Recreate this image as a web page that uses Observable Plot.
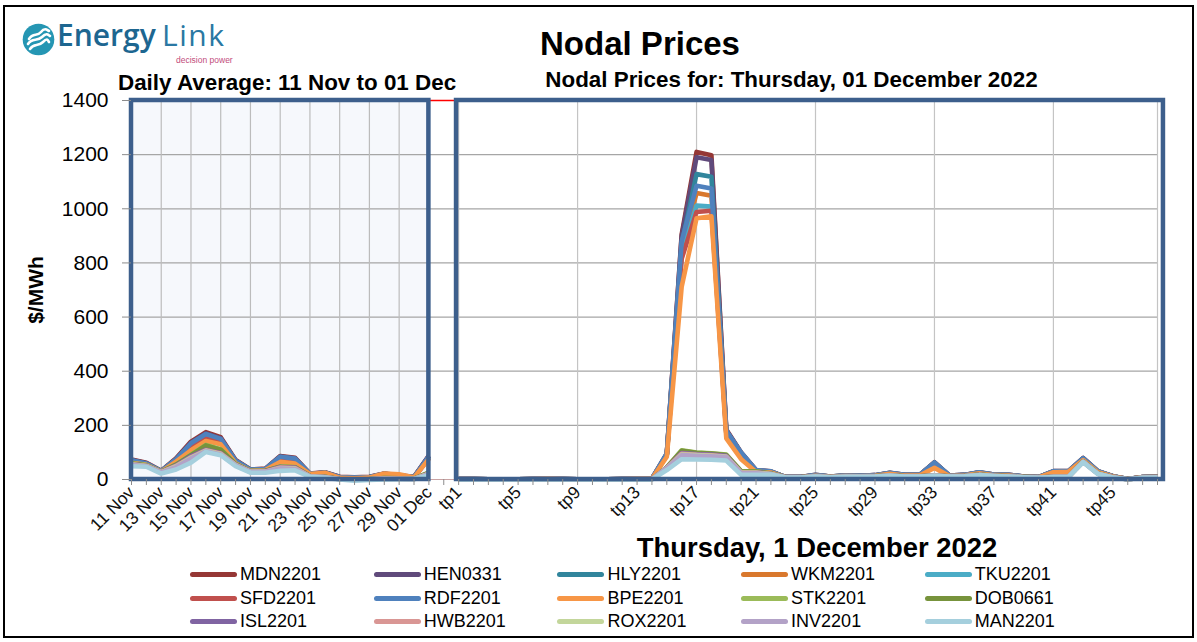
<!DOCTYPE html>
<html><head><meta charset="utf-8">
<script src="https://cdn.jsdelivr.net/npm/d3@7"></script>
<script src="https://cdn.jsdelivr.net/npm/@observablehq/plot@0.6"></script>
<style>
body{margin:0;background:#fff;}
#wrap{position:relative;width:1197px;height:642px;overflow:hidden;font-family:"Liberation Sans",Arial,sans-serif;background:#fff;}
#chart{position:absolute;left:0;top:0;}
#frame{position:absolute;left:3px;top:5px;width:1191px;height:633px;border:2px solid #000;box-sizing:border-box;pointer-events:none;}
.t{position:absolute;white-space:nowrap;font-weight:bold;color:#000;}
#legend{position:absolute;left:0;top:0;}
.li{position:absolute;display:flex;align-items:center;font-size:18px;color:#000;}
.sw{width:47px;height:5px;border-radius:3px;margin-right:3px;}
</style></head>
<body>
<div id="wrap">
  <div id="chart"></div>
  <!-- logo -->
  <svg style="position:absolute;left:22px;top:23px" width="34" height="34" viewBox="0 0 34 34">
    <circle cx="16.5" cy="16.5" r="15.8" fill="#2596b3"/>
    <path d="M7 16 C11 9,15 14,19 9 S25 7,27 8" stroke="#fff" stroke-width="2.6" fill="none" stroke-linecap="round"/>
    <path d="M6 21 C10 14,15 19,20 14 S26 12,28 13" stroke="#fff" stroke-width="2.6" fill="none" stroke-linecap="round"/>
    <path d="M8 26 C12 20,16 24,21 19 S26 18,27 19" stroke="#fff" stroke-width="2.6" fill="none" stroke-linecap="round"/>
  </svg>
  <div class="t" style="left:57px;top:20px;line-height:29px;font-family:'Open Sans',sans-serif;font-size:30px;font-weight:600;color:#1d6690;">Energy</div>
  <div class="t" style="left:162px;top:20px;line-height:29px;font-family:'Open Sans',sans-serif;font-size:30px;font-weight:400;letter-spacing:1.5px;color:#2a78a3;">Link</div>
  <div class="t" style="left:176px;top:55.5px;line-height:8.5px;font-family:'Liberation Sans',Arial,sans-serif;font-size:8.5px;font-weight:400;color:#c24c7c;">decision power</div>
  <!-- titles -->
  <div class="t" id="title" style="left:440px;width:400px;text-align:center;top:25px;font-size:33px;">Nodal Prices</div>
  <div class="t" id="sub1" style="left:118px;top:70px;font-size:22.4px;">Daily Average: 11 Nov to 01 Dec</div>
  <div class="t" id="sub2" style="left:530px;width:523px;text-align:center;top:67px;font-size:22.4px;">Nodal Prices for: Thursday, 01 December 2022</div>
  <div class="t" id="xtitle" style="left:580px;width:474px;text-align:center;top:532px;font-size:27.4px;">Thursday, 1 December 2022</div>
  <div class="t" id="ytitle" style="left:-14px;width:100px;text-align:center;top:278px;font-size:21px;transform:rotate(-90deg);">$/MWh</div>
  <div id="legend"></div>
  <div id="frame"></div>
</div>
<script>
// ---------- data ----------
const days = ["11 Nov","12 Nov","13 Nov","14 Nov","15 Nov","16 Nov","17 Nov","18 Nov","19 Nov","20 Nov",
  "21 Nov","22 Nov","23 Nov","24 Nov","25 Nov","26 Nov","27 Nov","28 Nov","29 Nov","30 Nov","01 Dec"];
const tps = ["tp1","tp2","tp3","tp4","tp5","tp6","tp7","tp8","tp9","tp10","tp11","tp12","tp13","tp14","tp15","tp16",
  "tp17","tp18","tp19","tp20","tp21","tp22","tp23","tp24","tp25","tp26","tp27","tp28","tp29","tp30","tp31","tp32",
  "tp33","tp34","tp35","tp36","tp37","tp38","tp39","tp40","tp41","tp42","tp43","tp44","tp45","tp46","tp47","tp48"];
const labelledDays = ["11 Nov","13 Nov","15 Nov","17 Nov","19 Nov","21 Nov","23 Nov","25 Nov","27 Nov","29 Nov","01 Dec"];
const labelledTps = ["tp1","tp5","tp9","tp13","tp17","tp21","tp25","tp29","tp33","tp37","tp41","tp45"];
const gridDays = ["11 Nov","13 Nov","15 Nov","17 Nov","19 Nov","21 Nov","23 Nov","25 Nov","27 Nov","29 Nov","01 Dec"];
const gridTps = ["tp1","tp9","tp17","tp25","tp33","tp41","tp48"];
const yTicks = [0,200,400,600,800,1000,1200,1400];

const seriesNames = ["MDN2201","HEN0331","HLY2201","WKM2201","TKU2201","SFD2201","RDF2201","BPE2201",
  "STK2201","DOB0661","ISL2201","HWB2201","ROX2201","INV2201","MAN2201"];
const seriesColors = ["#953735","#604a7b","#31859c","#d9782d","#4bacc6","#c0504d","#4f81bd","#f79646",
  "#9bbb59","#77933c","#8064a2","#d99694","#c3d69b","#b3a2c7","#a5cfdd"];

// daily averages, 11 Nov .. 01 Dec
const MDN_day = [74,62,32,78,140,175,156,72,37,40,87,80,22,27,10,8,10,22,16,10,88];
const HEN_day = [72,60,31,76,136,170,152,70,36,39,85,78,21,26,9,7,9,21,15,9,87];
const HLY_day = [70,58,31,74,132,166,148,68,35,38,83,76,20,25,8,6,8,20,14,8,84];
const WKM_day = [68,57,30,72,126,160,144,66,34,37,78,72,20,24,8,6,8,20,14,8,82];
const TKU_day = [66,56,30,70,122,156,140,64,34,36,74,68,19,24,7,5,7,19,13,7,80];
const SFD_day = [65,55,29,69,118,152,136,63,33,36,72,66,19,23,7,5,7,19,13,7,79];
const RDF_day = [71,59,31,75,134,168,150,69,36,39,84,77,21,25,9,7,9,21,15,9,86];
const BPE_day = [62,54,29,66,108,142,130,60,32,35,65,59,20,25,6,4,7,22,19,7,76];
const STK_day = [60,53,28,56,92,128,112,58,31,32,48,46,13,10,2,1,2,5,4,3,25];
const DOB_day = [59,52,28,55,90,126,110,57,31,32,47,45,13,10,2,1,2,5,4,3,25];
const ISL_day = [57,51,27,52,86,110,98,55,30,31,46,44,12,9,2,0,1,4,3,2,23];
const HWB_day = [56,50,27,50,82,108,96,54,29,30,44,42,12,9,1,0,1,4,3,2,22];
const ROX_day = [55,50,26,48,80,106,94,53,28,29,42,40,11,8,1,-1,1,3,2,2,21];
const INV_day = [54,49,26,46,78,104,92,52,28,29,41,39,11,8,1,-1,1,3,2,2,20];
const MAN_day = [49,47,22,37,62,102,90,49,25,25,32,34,10,6,0,-4,-2,0,1,1,16];

// trading periods tp1 .. tp48, 1 December 2022
const MDN_tp = [2,2,1,1,1,2,2,2,1,1,1,2,2,3, 95,905,1210,1198,185,100,35, 30,9,9,17,11,15,14,16,25,17,17, 64,15,17,27,18,17,11,9,31,31,80,31,12,2,9,10];
const HEN_tp = [2,2,1,1,1,2,2,2,1,1,1,2,2,3, 94,898,1190,1180,182,98,34, 29,9,9,16,11,15,14,16,24,17,17, 63,15,17,26,18,17,11,9,30,30,79,30,12,2,9,10];
const HLY_tp = [2,2,1,1,1,2,2,2,1,1,1,2,2,3, 92,870,1128,1118,178,96,33, 29,9,9,16,11,15,14,15,24,16,16, 62,15,16,26,17,16,11,9,30,30,78,30,12,2,9,10];
const WKM_tp = [2,2,1,1,1,2,2,2,1,1,1,2,2,3, 91,850,1058,1048,175,94,33, 28,9,9,16,11,14,13,15,23,16,16, 60,14,16,25,17,16,10,9,29,29,77,29,11,2,9,10];
const TKU_tp = [2,2,1,1,1,2,2,2,1,1,1,2,2,3, 90,830,1012,1008,172,92,32, 28,9,9,15,10,14,13,15,23,16,16, 58,14,16,25,17,16,10,8,29,29,76,29,11,2,8,9];
const SFD_tp = [2,2,1,1,1,2,2,2,1,1,1,2,2,3, 90,815,988,993,170,90,32, 28,9,9,15,10,14,13,15,23,16,16, 57,14,16,24,17,16,10,8,29,29,76,29,11,2,8,9];
const RDF_tp = [2,2,1,1,1,2,2,2,1,1,1,2,2,3, 96,880,1085,1075,180,100,35, 30,9,9,17,11,15,14,16,25,17,17, 63,15,17,27,18,17,11,9,31,31,79,31,12,2,9,10];
const BPE_tp = [1,1,1,1,1,1,2,1,1,1,1,1,2,2, 84,712,965,972,152,75,28, 26,8,8,14,10,13,12,14,21,15,15, 43,13,15,23,16,15,10,8,27,28,72,27,11,2,8,9];
const STK_tp = [1,1,1,1,1,1,1,1,1,1,1,1,1,1, 45,108,100,97,92,31,30, 22,8,8,12,9,11,11,12,16,12,12, 15,12,13,18,14,12,9,7,10,10,68,22,8,1,7,8];
const DOB_tp = [1,1,1,1,1,1,1,1,1,1,1,1,1,1, 44,106,99,96,90,30,29, 22,8,8,12,9,11,11,12,16,12,12, 15,12,13,18,14,12,9,7,10,10,67,22,8,1,7,8];
const ISL_tp = [1,1,1,1,1,1,1,1,1,1,1,1,1,1, 44,98,94,92,88,27,27, 21,8,8,12,9,11,11,12,15,12,12, 15,12,13,17,14,12,9,7,10,10,66,21,8,1,7,8];
const HWB_tp = [1,1,1,1,1,1,1,1,1,1,1,1,1,1, 43,95,91,89,85,26,26, 20,8,8,11,9,10,10,11,15,11,11, 14,11,12,17,13,11,8,7,10,10,66,21,8,1,7,8];
const ROX_tp = [1,1,1,1,1,1,1,1,1,1,1,1,1,1, 42,92,90,88,84,25,25, 20,7,7,11,8,10,10,11,14,11,11, 14,11,12,16,13,11,8,6,9,9,65,21,7,1,6,7];
const INV_tp = [1,1,1,1,1,1,1,1,1,1,1,1,1,1, 42,90,88,86,83,23,23, 19,7,7,11,8,10,10,11,14,11,11, 14,11,12,16,13,11,8,6,9,9,65,20,7,1,6,7];
const MAN_tp = [0,0,0,0,0,0,0,0,0,0,0,0,0,0, 35,75,74,73,70,17,17, 18,7,7,11,8,10,10,11,14,11,11, 14,11,12,16,13,11,8,6,9,9,64,20,7,1,6,7];

const dayValues = [MDN_day,HEN_day,HLY_day,WKM_day,TKU_day,SFD_day,RDF_day,BPE_day,STK_day,DOB_day,ISL_day,HWB_day,ROX_day,INV_day,MAN_day];
const tpValues  = [MDN_tp,HEN_tp,HLY_tp,WKM_tp,TKU_tp,SFD_tp,RDF_tp,BPE_tp,STK_tp,DOB_tp,ISL_tp,HWB_tp,ROX_tp,INV_tp,MAN_tp];

// ---------- layout of the shared category axis ----------
const pos = new Map();
days.forEach((d, i) => pos.set(d, i));
tps.forEach((t, k) => pos.set(t, days.length + 1 + k)); // one empty category between the two panels
const nCat = days.length + 1 + tps.length;
const allIdx = d3.range(nCat);
const labelOf = new Map([...labelledDays, ...labelledTps].map(l => [pos.get(l), l]));

const rows = [];
seriesNames.forEach((s, j) => {
  days.forEach((d, i) => rows.push({series: s, part: "d", x: pos.get(d), v: dayValues[j][i]}));
  tps.forEach((t, i) => rows.push({series: s, part: "t", x: pos.get(t), v: tpValues[j][i]}));
});

const yMax = yTicks[yTicks.length - 1];
const leftPanel = [{x1: pos.get(days[0]), x2: pos.get(days[days.length - 1]), y1: 0, y2: yMax}];
const rightPanel = [{x1: pos.get(tps[0]) - 0.14, x2: pos.get(tps[tps.length - 1]) + 0.4, y1: 0, y2: yMax}];
const boxStroke = "#3d5f8c";

const chart = Plot.plot({
  width: 1197,
  height: 545,
  marginTop: 100,
  marginBottom: 66,
  marginLeft: 131,
  marginRight: 40,
  style: {background: "transparent", fontFamily: "'Liberation Sans', Arial, sans-serif", overflow: "visible"},
  x: {domain: [0, nCat - 1]},
  y: {domain: [0, yMax]},
  color: {domain: seriesNames, range: seriesColors},
  marks: [
    Plot.ruleY([0], {stroke: "#c9a3a3", strokeWidth: 1.2}),
    Plot.ruleY([yMax], {stroke: "#ff0000", strokeWidth: 1.5}),
    Plot.rect(leftPanel, {x1: "x1", x2: "x2", y1: "y1", y2: "y2", fill: "#f6f8fc"}),
    Plot.rect(rightPanel, {x1: "x1", x2: "x2", y1: "y1", y2: "y2", fill: "#ffffff"}),
    Plot.ruleY(yTicks.filter(v => v > 0 && v < yMax), {stroke: "#a6a6a6", strokeWidth: 1.3}),
    Plot.ruleX(gridDays.map(d => pos.get(d)), {y1: 0, y2: yMax, stroke: "#bcbcbc", strokeWidth: 1.2}),
    Plot.ruleX(gridTps.map(d => pos.get(d)), {y1: 0, y2: yMax, stroke: "#c4c4c4", strokeWidth: 1.2}),
    Plot.line(rows, {x: "x", y: "v", z: d => d.series + d.part, stroke: "series", strokeWidth: 4.6, strokeLinejoin: "round", strokeLinecap: "butt"}),
    Plot.rect(leftPanel, {x1: "x1", x2: "x2", y1: "y1", y2: "y2", fill: "none", stroke: boxStroke, strokeWidth: 4.5}),
    Plot.rect(rightPanel, {x1: "x1", x2: "x2", y1: "y1", y2: "y2", fill: "none", stroke: boxStroke, strokeWidth: 4.5}),
    Plot.axisY({ticks: yTicks, tickSize: 9, tickPadding: 14, tickFormat: d => String(d), fontSize: 21, label: null, stroke: "#8c8c8c", color: "#000"}),
    Plot.axisX({ticks: allIdx, tickSize: 6, tickFormat: () => "", label: null, stroke: "#8c8c8c"}),
    Plot.axisX({ticks: [...labelOf.keys()], tickSize: 0, tickPadding: 10, tickRotate: -45, tickFormat: d => labelOf.get(d), fontSize: 17.5, label: null, color: "#111"})
  ]
});
document.getElementById("chart").appendChild(chart);

// ---------- legend ----------
const legend = document.getElementById("legend");
seriesNames.forEach((s, j) => {
  const row = Math.floor(j / 5), col = j % 5;
  const el = document.createElement("div");
  el.className = "li";
  el.style.left = (190 + col * 183.7) + "px";
  el.style.top = (564 + row * 23.6) + "px";
  el.innerHTML = `<span class="sw" style="background:${seriesColors[j]}"></span><span>${s}</span>`;
  legend.appendChild(el);
});
</script>
</body></html>
